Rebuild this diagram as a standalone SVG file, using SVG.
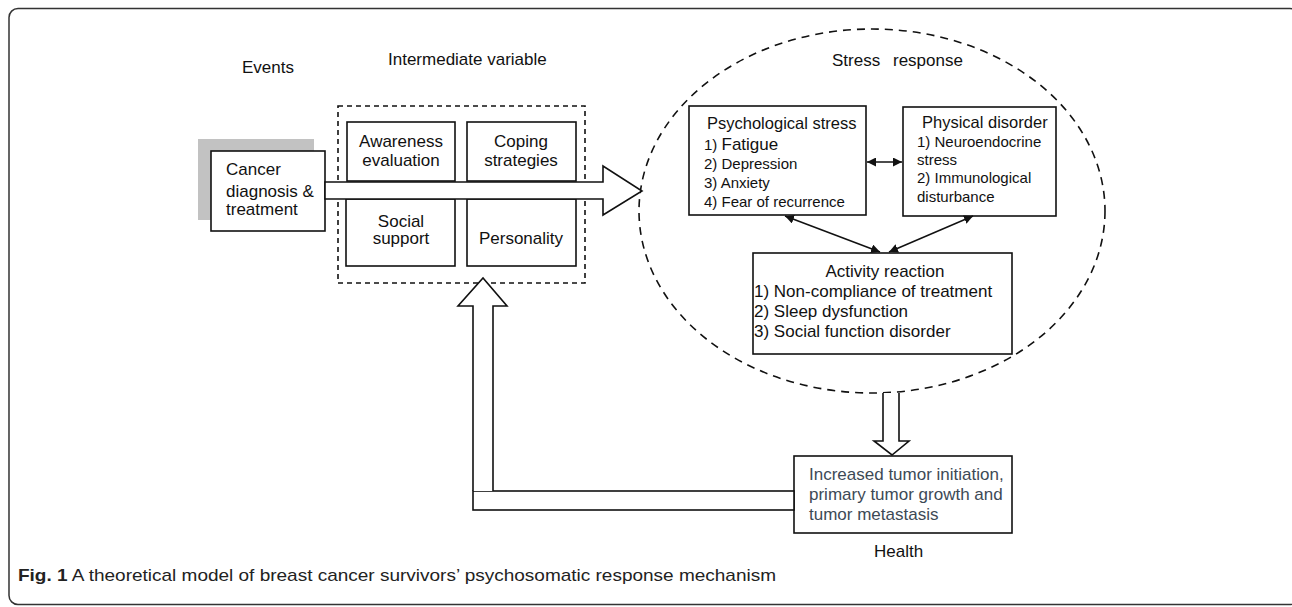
<svg xmlns="http://www.w3.org/2000/svg" width="1292" height="607" viewBox="0 0 1292 607">
<style>
text{font-family:"Liberation Sans",Arial,sans-serif;fill:#111;}
.box{fill:#fff;stroke:#111;stroke-width:1.6;}
.blk{fill:#fff;stroke:#111;stroke-width:1.6;stroke-linejoin:miter;}
.t17{font-size:17px;}
.t15{font-size:15px;}
.t16{font-size:16.5px;}
.ln{stroke:#111;stroke-width:1.5;fill:none;}
</style>
<defs>
<marker id="ah" viewBox="0 0 10 10" refX="10" refY="5" markerWidth="9" markerHeight="9" markerUnits="userSpaceOnUse" orient="auto-start-reverse">
<path d="M0,0 L10,5 L0,10 z" fill="#111"/>
</marker>
</defs>
<rect x="9" y="8.5" width="1290" height="596" rx="9" fill="none" stroke="#333" stroke-width="1.5"/>

<g id="labels">
<text class="t17" x="242" y="73">Events</text>
<text class="t17" x="388" y="65">Intermediate variable</text>
<text class="t17" x="832" y="66">Stress</text>
<text class="t17" x="893" y="66">response</text>
<text class="t17" x="874" y="557">Health</text>
</g>

<g id="stress-ellipse">
<ellipse cx="872" cy="211" rx="233" ry="182" fill="none" stroke="#111" stroke-width="1.6" stroke-dasharray="8,6"/>
</g>

<g id="intermediate">
<rect x="338" y="106" width="247" height="177" fill="none" stroke="#111" stroke-width="1.6" stroke-dasharray="5,4"/>
</g>

<g id="awareness">
<rect class="box" x="347" y="122" width="108" height="59"/>
<text class="t17" x="401" y="147" text-anchor="middle">Awareness</text>
<text class="t17" x="401" y="166" text-anchor="middle">evaluation</text>
</g>
<g id="coping">
<rect class="box" x="467" y="122" width="109" height="59"/>
<text class="t17" x="521" y="147" text-anchor="middle">Coping</text>
<text class="t17" x="521" y="166" text-anchor="middle">strategies</text>
</g>
<g id="social">
<rect class="box" x="346" y="199" width="109" height="67"/>
<text class="t17" x="401" y="227" text-anchor="middle">Social</text>
<text class="t17" x="401" y="244" text-anchor="middle">support</text>
</g>
<g id="personality">
<rect class="box" x="467" y="199" width="109" height="67"/>
<text class="t17" x="521" y="244" text-anchor="middle">Personality</text>
</g>

<g id="cancer">
<rect x="198" y="139" width="116" height="81" fill="#c2c2c2"/>
<rect class="box" x="211" y="151" width="114" height="80"/>
<text class="t17" x="226" y="175">Cancer</text>
<text class="t17" x="226" y="197">diagnosis &amp;</text>
<text class="t17" x="226" y="215">treatment</text>
</g>

<g id="psych">
<rect class="box" x="689" y="106" width="177" height="109"/>
<text class="t16" x="707" y="129">Psychological stress</text>
<text x="704" y="150"><tspan class="t15">1) </tspan><tspan class="t17">Fatigue</tspan></text>
<text class="t15" x="704" y="169">2) Depression</text>
<text class="t15" x="704" y="188">3) Anxiety</text>
<text class="t15" x="704" y="207">4) Fear of recurrence</text>
</g>

<g id="physical">
<rect class="box" x="903" y="107" width="153" height="109"/>
<text class="t16" x="922" y="128">Physical disorder</text>
<text class="t15" x="917" y="147">1) Neuroendocrine</text>
<text class="t15" x="917" y="165">stress</text>
<text class="t15" x="917" y="183">2) Immunological</text>
<text class="t15" x="917" y="202">disturbance</text>
</g>

<g id="activity">
<rect class="box" x="753" y="253" width="259" height="101"/>
<text class="t17" x="885" y="277" text-anchor="middle">Activity reaction</text>
<text class="t17" x="754" y="297">1) Non-compliance of treatment</text>
<text class="t17" x="754" y="317">2) Sleep dysfunction</text>
<text class="t17" x="754" y="337">3) Social function disorder</text>
</g>

<g id="health">
<rect class="box" x="794" y="456" width="218" height="77"/>
<text class="t17" x="809" y="480" style="fill:#3d4a56">Increased tumor initiation,</text>
<text class="t17" x="809" y="500" style="fill:#3d4a56">primary tumor growth and</text>
<text class="t17" x="809" y="520" style="fill:#3d4a56">tumor metastasis</text>
</g>

<g id="connectors">
<path class="blk" d="M325,182 H603 V166 L642,191 L603,215 V199 H325 Z"/>
<path class="blk" d="M883,393 V441 H874 L892,455 L909,441 H899 V393"/>
<rect class="blk" x="473" y="491" width="321" height="19"/>
<path class="blk" d="M473,491 V306 H458 L483,278 L507,306 H493 V491"/>
<line class="ln" x1="867" y1="162" x2="902" y2="162" marker-start="url(#ah)" marker-end="url(#ah)"/>
<line class="ln" x1="785" y1="216" x2="880" y2="252" marker-start="url(#ah)" marker-end="url(#ah)"/>
<line class="ln" x1="973" y1="216" x2="889" y2="252" marker-start="url(#ah)" marker-end="url(#ah)"/>
</g>

<g id="caption">
<text x="18" y="581" style="font-size:17px;fill:#222" textLength="758" lengthAdjust="spacingAndGlyphs"><tspan font-weight="bold">Fig. 1</tspan> A theoretical model of breast cancer survivors’ psychosomatic response mechanism</text>
</g>
</svg>
